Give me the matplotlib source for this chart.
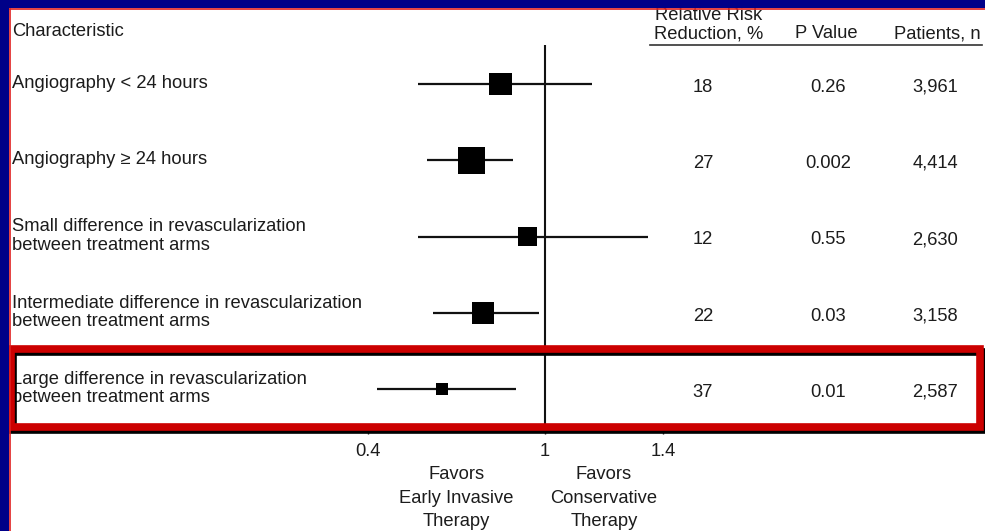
import matplotlib.pyplot as plt
import matplotlib.patheffects as pe
from matplotlib.patches import Rectangle
from matplotlib.lines import Line2D

plt.rcParams['font.family'] = ['Liberation Sans', 'DejaVu Sans']

# data
labels = [
    "Angiography < 24 hours",
    "Angiography \u2265 24 hours",
    "Small difference in revascularization\nbetween treatment arms",
    "Intermediate difference in revascularization\nbetween treatment arms",
    "Large difference in revascularization\nbetween treatment arms",
]
rr = [0.85, 0.75, 0.94, 0.79, 0.65]
ci_low = [0.57, 0.60, 0.57, 0.62, 0.43]
ci_high = [1.16, 0.89, 1.35, 0.98, 0.90]
rrr = ["18", "27", "12", "22", "37"]
p_values = ["0.26", "0.002", "0.55", "0.03", "0.01"]
patients = ["3,961", "4,414", "2,630", "3,158", "2,587"]
xticks = [0.4, 1, 1.4]
xtick_labels = ["0.4", "1", "1.4"]
highlight_row = 4

# style
box_pt = [16.5, 19.5, 13.5, 16, 8.5]   # square side in points
txt = '#1c1c1c'
navy = '#000088'
red = '#cc0000'
fs = 13.2

W, H = 985, 531
fig = plt.figure(figsize=(W / 100, H / 100), dpi=100, facecolor='white')

# axes spans full width; top at y=45px, bottom at y=428px
ax = fig.add_axes([0, (H - 428) / H, 1, (428 - 45) / H])
ax.set_facecolor('none')
ax.set_xlim(-0.8475, 2.4915)
ax.set_ylim(4.508, -0.511)
for s in ax.spines.values():
    s.set_visible(False)
ax.set_yticks([])
ax.set_xticks(xticks, xtick_labels)
ax.tick_params(axis='x', length=4, width=1, pad=7, labelsize=fs,
               colors=txt)


def py(px):
    # pixel row from top -> data y
    return (px - 84) / 76.3


rows = list(range(len(labels)))

# reference line
ax.axvline(1, color='#111111', lw=1.5, zorder=1)

# CIs and squares
ax.hlines(rows, ci_low, ci_high, color='#111111', lw=1.6, zorder=2)
ax.scatter(rr, rows, s=[b ** 2 for b in box_pt], marker='s',
           color='black', linewidths=0, zorder=3)

# header underline
ax.axhline(-0.511, xmin=650 / W, xmax=982 / W, color='#333333', lw=1.2,
           clip_on=False)

tr = ax.get_yaxis_transform()

# headers
ax.text(12 / W, py(36.5), "Characteristic", transform=tr, ha='left',
        va='baseline', fontsize=fs, color=txt)
ax.text(709 / W, py(25), "Relative Risk\nReduction, %", transform=tr,
        ha='center', va='center', fontsize=fs, color=txt, linespacing=1.1)
ax.text(826 / W, py(38.5), "P Value", transform=tr, ha='center',
        va='baseline', fontsize=fs, color=txt)
ax.text(937 / W, py(38.5), "Patients, n", transform=tr, ha='center',
        va='baseline', fontsize=fs, color=txt)

# rows
for i in rows:
    ax.text(12 / W, i - 0.01, labels[i], transform=tr, ha='left',
            va='center', fontsize=fs, color=txt, linespacing=1.1)
    ax.text(703 / W, i + 0.1, rrr[i], transform=tr, ha='center',
            va='baseline', fontsize=fs, color=txt)
    ax.text(828 / W, i + 0.1, p_values[i], transform=tr, ha='center',
            va='baseline', fontsize=fs, color=txt)
    ax.text(935 / W, i + 0.1, patients[i], transform=tr, ha='center',
            va='baseline', fontsize=fs, color=txt)

# favors labels
ax.text(0.7, py(498), "Favors\nEarly Invasive\nTherapy", transform=ax.transData,
        ha='center', va='center', fontsize=fs, color=txt, linespacing=1.5)
ax.text(1.2, py(498), "Favors\nConservative\nTherapy", transform=ax.transData,
        ha='center', va='center', fontsize=fs, color=txt, linespacing=1.5)

# slide frame
fig.add_artist(Rectangle((0, 0), 9 / W, 1, transform=fig.transFigure,
                         facecolor=navy, edgecolor='none', zorder=5))
fig.add_artist(Rectangle((0, 1 - 8 / H), 1, 8 / H, transform=fig.transFigure,
                         facecolor=navy, edgecolor='none', zorder=5))
fig.add_artist(Line2D([10 / W, 10 / W], [0, 1 - 9 / H],
                      transform=fig.transFigure, color='#e02020', lw=1.2,
                      zorder=5))
fig.add_artist(Line2D([10 / W, 1], [1 - 9 / H, 1 - 9 / H],
                      transform=fig.transFigure, color='#e02020', lw=1.2,
                      zorder=5))

# highlight box around last row
box = Rectangle((10.5 / W, highlight_row + py(349) - py(389)),
                (979.5 - 10.5) / W, (426.5 - 349) / 76.3,
                transform=tr, fill=False, edgecolor=red, lw=5.5,
                clip_on=False, zorder=6)
box.set_path_effects([pe.SimpleLineShadow(offset=(2, -2), shadow_color='black',
                                          alpha=1), pe.Normal()])
ax.add_patch(box)

fig.savefig("out.png", dpi=100)
